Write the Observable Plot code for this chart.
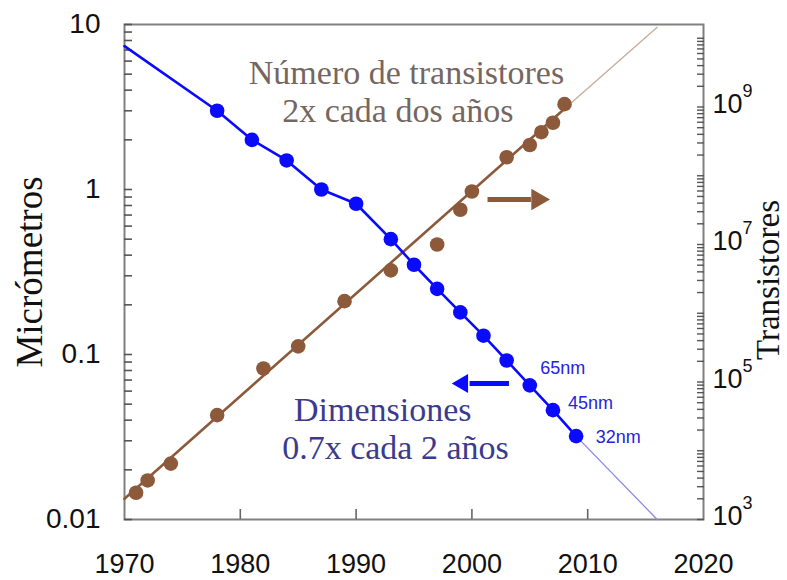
<!DOCTYPE html>
<html>
<head>
<meta charset="utf-8">
<script src="https://cdn.jsdelivr.net/npm/d3@7"></script>
<script src="https://cdn.jsdelivr.net/npm/@observablehq/plot@0.6"></script>
<style>
  body { margin: 0; background: #fff; }
  #chart { width: 787px; height: 580px; }
</style>
</head>
<body>
<div id="chart"></div>
<script>
// Minimum feature size (micrometres) by year
const sizeYears   = [1978, 1981, 1984, 1987, 1990, 1993, 1995, 1997, 1999, 2001, 2003, 2005, 2007, 2009];
const sizeMicrons = [3.0, 2.0, 1.5, 1.0, 0.82, 0.5, 0.35, 0.25, 0.18, 0.13, 0.092, 0.065, 0.046, 0.032];

// Fitted size curve: start at 1970, then through the measured nodes, then projection
const sizeLineStartYear = 1970;
const sizeLineStartValue = 7.4;
const sizeProjYears  = [2009, 2016];
const sizeProjValues = [0.032, 0.01];

// Transistors per chip by year
const countYears  = [1971, 1972, 1974, 1978, 1982, 1985, 1989, 1993, 1997, 1999, 2000, 2003, 2005, 2006, 2007, 2008];
const countValues = [2450, 3700, 6500, 33000, 157000, 330000, 1.5e6, 4.2e6, 1.0e7, 3.2e7, 5.9e7, 1.86e8, 2.8e8, 4.3e8, 5.9e8, 1.1e9];

// Doubling trend for the transistor count, and its projection
const countTrendYears  = [1970, 2008];
const countTrendValues = [2000, 9.4e8];
const countProjYears   = [2008, 2016];
const countProjValues  = [9.4e8, 1.45e10];

// Axis ticks
const leftTicks = [0.01, 0.1, 1, 10];
const leftTickLabels = ["0.01", "0.1", "1", "10"];
const yearTicks = [1970, 1980, 1990, 2000, 2010, 2020];
const rightExponents = [3, 5, 7, 9];

// Node labels next to the last three points
const nodeLabels = ["65nm", "45nm", "32nm"];
const nodeLabelYears = [2005.9, 2008.3, 2010.7];
const nodeLabelValues = [0.083, 0.0505, 0.0314];

// Annotation text (each line placed separately)
const countNote = ["Número de transistores", "2x cada dos años"];
const countNoteYears = [1994.35, 1993.6];
const countNoteValues = [5.05, 3.0];
const sizeNote = ["Dimensiones", "0.7x cada 2 años"];
const sizeNoteYears = [1992.3, 1993.4];
const sizeNoteValues = [0.0458, 0.0269];

// Direction arrows (pointing at the axis each series belongs to)
const countArrow = {x1: 2001.35, x2: 2005.1, y: 0.87, tip: 2005.67};
const sizeArrow  = {x1: 2003.2, x2: 1999.8, y: 0.0667, tip: 1999.2};

// Right axis (transistors, 10^3 .. ~10^10.2) shares the frame with the left axis (0.01 .. 10):
// 7.2 decades on the right span the same height as 3 decades on the left.
const toLeft = t => 10 ** ((Math.log10(t) - 3) * (3 / 7.2) - 2);

const blue = "#0a0aff";
const brown = "#8c5a3a";

const sizeLine = [{year: sizeLineStartYear, v: sizeLineStartValue}]
  .concat(sizeYears.map((y, i) => ({year: y, v: sizeMicrons[i]})));
const sizePoints = sizeYears.map((y, i) => ({year: y, v: sizeMicrons[i]}));
const sizeProj = sizeProjYears.map((y, i) => ({year: y, v: sizeProjValues[i]}));
const countPoints = countYears.map((y, i) => ({year: y, v: toLeft(countValues[i])}));
const countTrend = countTrendYears.map((y, i) => ({year: y, v: toLeft(countTrendValues[i])}));
const countProj = countProjYears.map((y, i) => ({year: y, v: toLeft(countProjValues[i])}));

const leftMinor = [];
for (let e = -2; e <= 0; e++) for (let m = 1; m <= 9; m++) leftMinor.push(m * 10 ** e);
leftMinor.push(10);
const rightMinor = [];
for (let e = 3; e <= 10; e++) for (let m = 1; m <= 9; m++) {
  const t = m * 10 ** e;
  if (toLeft(t) <= 10) rightMinor.push(toLeft(t));
}

const sans = "'Liberation Sans', Arial, sans-serif";
const serif = "'Liberation Serif', 'Times New Roman', serif";

const chart = Plot.plot({
  width: 787,
  height: 580,
  marginTop: 24,
  marginBottom: 61,
  marginLeft: 124,
  marginRight: 84,
  style: {fontFamily: sans, color: "#111", background: "#fff"},
  x: {domain: [1970, 2020], axis: null},
  y: {type: "log", domain: [0.01, 10], axis: null},
  marks: [
    Plot.frame({stroke: "#808080", strokeWidth: 2}),
    // left axis
    Plot.axisY({anchor: "left", ticks: leftTicks, tickSize: 0, tickPadding: 24, fontSize: 28,
      tickFormat: d => leftTickLabels[leftTicks.indexOf(d)]}),
    Plot.axisY({anchor: "left", ticks: leftMinor, tickSize: -8, text: null, stroke: "#555", strokeWidth: 1.6}),
    // bottom axis
    Plot.axisX({anchor: "bottom", ticks: yearTicks, tickSize: 0, tickPadding: 34, fontSize: 27, tickFormat: d => String(d)}),
    Plot.axisX({anchor: "bottom", ticks: [1980, 1990, 2000, 2010], tickSize: -10, text: null, stroke: "#666", strokeWidth: 1.6}),
    // right axis
    Plot.axisY({anchor: "right", ticks: rightMinor, tickSize: -7, text: null, stroke: "#555", strokeWidth: 1.4}),
    Plot.text(rightExponents, {y: e => toLeft(10 ** e), frameAnchor: "right", text: () => "10",
      dx: 9, dy: -3, textAnchor: "start", fontSize: 27, fill: "#111"}),
    Plot.text(rightExponents, {y: e => toLeft(10 ** e), frameAnchor: "right", text: e => String(e),
      dx: 39, dy: -16, textAnchor: "start", fontSize: 18, fill: "#111"}),
    // axis titles, centred vertically on the frame
    Plot.text(["Micrómetros"], {frameAnchor: "left", dx: -94, rotate: -90, textAnchor: "middle",
      lineAnchor: "middle", fontSize: 37, fontFamily: serif, fill: "#111"}),
    Plot.text(["Transistores"], {frameAnchor: "right", dx: 65, dy: 8, rotate: -90, textAnchor: "middle",
      lineAnchor: "middle", fontSize: 33, fontFamily: serif, fill: "#111"}),
    // transistor count
    Plot.line(countProj, {x: "year", y: "v", stroke: "#c9ab9b", strokeWidth: 1.3}),
    Plot.line(countTrend, {x: "year", y: "v", stroke: brown, strokeWidth: 2.6}),
    Plot.dot(countPoints, {x: "year", y: "v", r: 7.3, fill: brown}),
    // feature size
    Plot.line(sizeProj, {x: "year", y: "v", stroke: "#8a8aee", strokeWidth: 1.3}),
    Plot.line(sizeLine, {x: "year", y: "v", stroke: blue, strokeWidth: 2.6}),
    Plot.dot(sizePoints, {x: "year", y: "v", r: 7.3, fill: blue}),
    // node labels
    Plot.text(nodeLabels, {x: (d, i) => nodeLabelYears[i], y: (d, i) => nodeLabelValues[i], text: d => d,
      textAnchor: "start", fontSize: 18, fill: "#2424e0"}),
    // annotations
    Plot.text(countNote, {x: (d, i) => countNoteYears[i], y: (d, i) => countNoteValues[i], text: d => d,
      fontSize: 34, fontFamily: serif, fill: "#766660"}),
    Plot.text(sizeNote, {x: (d, i) => sizeNoteYears[i], y: (d, i) => sizeNoteValues[i], text: d => d,
      fontSize: 34, fontFamily: serif, fill: "#3b3b8e"}),
    // arrows
    Plot.link([countArrow], {x1: "x1", x2: "x2", y1: "y", y2: "y", stroke: brown, strokeWidth: 5}),
    Plot.dot([countArrow], {x: "tip", y: "y", symbol: "triangle", rotate: 90, r: 8, fill: brown}),
    Plot.link([sizeArrow], {x1: "x1", x2: "x2", y1: "y", y2: "y", stroke: blue, strokeWidth: 5}),
    Plot.dot([sizeArrow], {x: "tip", y: "y", symbol: "triangle", rotate: -90, r: 7, fill: blue})
  ]
});

document.getElementById("chart").append(chart);
</script>
</body>
</html>
